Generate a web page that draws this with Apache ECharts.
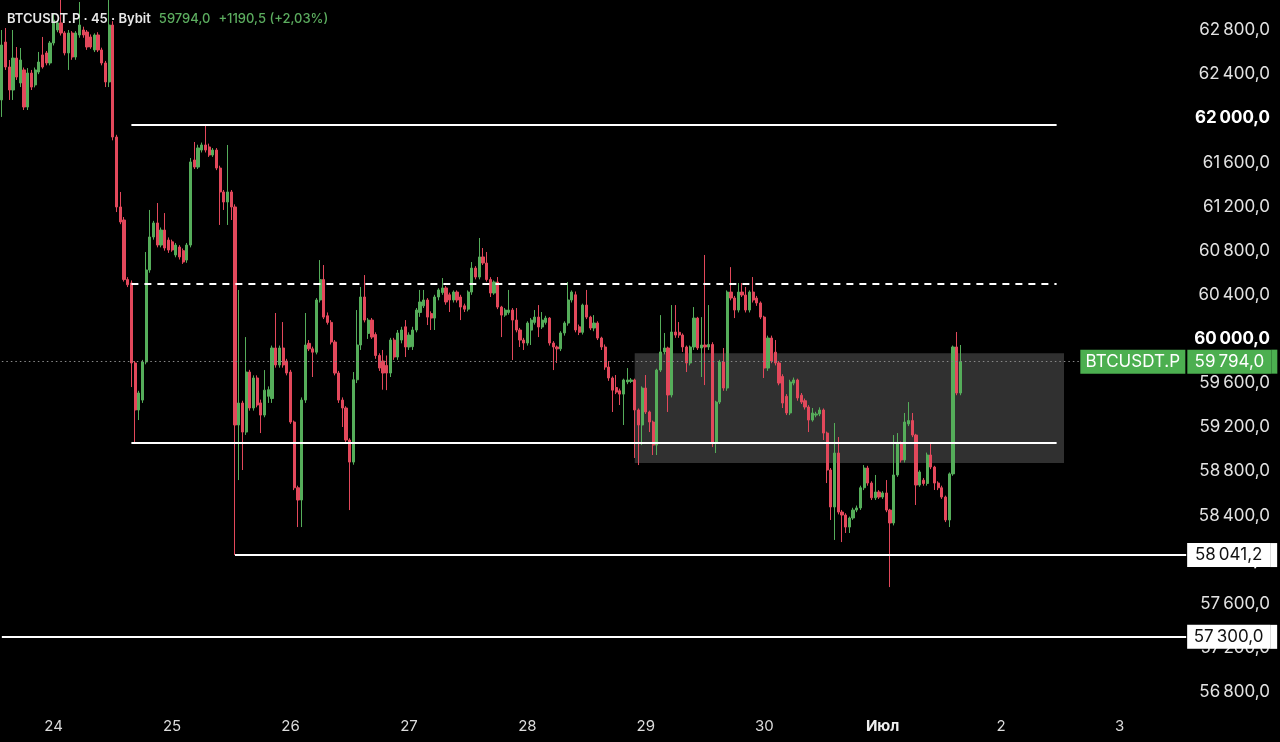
<!DOCTYPE html>
<html>
<head>
<meta charset="utf-8">
<script src="https://cdn.jsdelivr.net/npm/echarts@6.0.0/dist/echarts.min.js"></script>
<style>
  html, body { margin: 0; padding: 0; background: #000; }
  #chart { width: 1280px; height: 742px; }
</style>
</head>
<body>
<div id="chart"></div>
<script>
// ---- DATA: 45-minute candles [open, close, low, high] ----
const day23 = [
  [62166,62664,62012,62800],[62691,62465,62438,62818],[62465,62256,62166,62528],[62256,62546,62166,62800],
  [62546,62374,62347,62646],[62320,62528,62283,62637],[62438,62102,62075,62460],[62102,62410,62075,62455],
  [62410,62283,62256,62438],[62302,62438,62280,62460],[62419,62510,62400,62601],[62574,62465,62450,62737],
  [62592,62501,62480,62610],[62501,62682,62480,62700]
];
const day24 = [
  [62682,62891,62660,62954],[62800,62864,62780,62890],[62864,62773,62750,63080],[62773,62592,62570,62790],
  [62592,62773,62438,62800],[62773,62555,62530,62790],[62555,62773,62530,62790],[62755,62845,62730,63054],
  [62800,62755,62730,62830],[62782,62646,62620,62800],[62737,62646,62630,62760],[62619,62755,62600,62770],
  [62755,62619,62600,62780],[62619,62501,62480,62640],[62501,62329,62283,62520],[62329,62845,62283,63080],
  [62845,61830,61800,62880],[61830,61196,61150,61850],[61196,61060,61040,61332],[61078,60538,60520,61105],
  [60538,60491,60470,60560],[60507,59782,59564,60530],[59782,59356,59057,59800],[59356,59510,59265,59530],
  [59446,59791,59420,59810],[59791,60625,59770,60788],[60625,60924,60600,61169],[60924,61051,60900,61070],
  [61051,60851,60830,61232],[60851,60987,60830,61010],[60987,60824,60800,61141],[60896,60806,60780,60920]
];
const day25 = [
  [60880,60806,60790,60900],[60761,60851,60740,60870],[60833,60743,60720,60850],[60800,60697,60680,60820],
  [60715,60851,60690,60870],[60851,61604,60830,61640],[61622,61558,61540,61785],[61558,61731,61540,61760],
  [61712,61758,61690,61780],[61758,61712,61690,61939],[61740,61667,61650,61770],[61667,61712,61650,61730],
  [61712,61549,61530,61730],[61549,61332,61033,61570],[61332,61241,61169,61350],[61241,61332,61033,61758],
  [61332,61196,61078,61350],[61196,59220,58041.2,61220],[59220,59419,58721,60444],[59419,59156,58812,59440],
  [59156,59700,59130,60017],[59700,59374,59350,59720],[59374,59646,59350,59670],[59646,59401,59380,59670],
  [59420,59310,59147,59450],[59310,59536,59290,59718],[59480,59540,59420,59570],[59460,59918,59420,59940],
  [59918,59764,59740,60235],[59764,59918,59740,59940],[59918,59764,59740,60153],[59800,59691,59670,59820]
];
const day26 = [
  [59700,59247,59230,59720],[59247,58651,58630,59260],[58651,58540,58295,58670],[58540,59446,58295,59470],
  [59446,59945,59420,60235],[59960,59910,59890,59990],[59910,59880,59655,59930],[59880,60353,59860,60370],
  [60353,60538,60330,60715],[60538,60198,60180,60670],[60210,60150,60130,60240],[60150,59972,59950,60170],
  [59972,59691,59670,59990],[59691,59446,59420,59710],[59446,59374,59202,59470],[59374,59084,59060,59390],
  [59084,58884,58449,59100],[58884,59630,58860,59700],[59630,59945,59600,60262],[59945,60380,59900,60471],
  [60380,60171,60150,60579],[60050,60171,60000,60190],[60171,60017,60000,60190],[60040,59850,59820,60060],
  [59850,59736,59710,59870],[59800,59691,59540,59900],[59760,59691,59536,59850],[59691,59990,59655,60010],
  [59990,59836,59810,60010],[59836,60054,59810,60081],[59990,60081,59960,60110],[60110,59927,59836,60171]
];
const day27 = [
  [59927,60035,59900,60060],[59930,60081,59900,60110],[60081,60262,60060,60280],[60240,60335,60200,60444],
  [60300,60353,60280,60444],[60353,60198,60126,60370],[60230,60189,60081,60250],[60189,60380,60081,60400],
  [60380,60444,60350,60460],[60420,60462,60400,60552],[60462,60335,60310,60480],[60400,60353,60244,60420],
  [60353,60425,60330,60440],[60425,60353,60330,60440],[60380,60289,60171,60400],[60300,60270,60244,60320],
  [60270,60425,60250,60440],[60425,60642,60400,60697],[60642,60561,60540,60660],[60561,60743,60540,60915],
  [60743,60688,60670,60824],[60688,60538,60520,60788],[60538,60416,60380,60560],[60416,60516,60400,60530],
  [60516,60289,60270,60561],[60289,60216,60017,60300],[60216,60262,60200,60280],[60240,60262,60220,60444],
  [60262,60171,59809,60280],[60171,60081,60060,60280],[60081,59990,59927,60100],[59990,59963,59900,60010]
];
const day28 = [
  [59963,60144,59940,60160],[60080,60171,59945,60190],[60150,60198,60130,60262],[60198,60108,60017,60307],
  [60108,60171,60090,60244],[60150,60189,60130,60210],[60189,59963,59940,60198],[59963,59927,59718,59980],
  [59927,59910,59782,59940],[59910,60054,59890,60070],[60054,60144,60030,60160],[60144,60353,60120,60516],
  [60353,60425,60330,60440],[60400,60081,60060,60430],[60110,60060,60035,60130],[60060,60307,60040,60320],
  [60307,60198,60180,60444],[60198,60099,60080,60210],[60099,60144,60070,60216],[60144,60008,59990,60160],
  [60008,59927,59900,60020],[59927,59745,59720,59950],[59745,59646,59620,59800],[59646,59536,59338,59660],
  [59560,59518,59500,59673],[59530,59500,59401,59550],[59500,59628,59220,59640],[59610,59628,59590,59736],
  [59615,59628,59600,59645],[59628,59356,58921,59640],[59356,59220,58857,59370],[59220,59555,59038,59570]
];
const day29 = [
  [59555,59338,59320,59673],[59338,59247,59156,59350],[59247,59038,58948,59260],[59038,59718,58948,59730],
  [59718,59882,59700,60216],[59882,59918,59860,60054],[59918,59492,59338,59930],[59492,60063,59470,60307],
  [60063,60035,60010,60307],[60060,60035,60010,60153],[60035,59927,59882,60050],[59927,59782,59700,59940],
  [59782,59927,59760,59940],[59927,60189,59900,60289],[60189,59918,59900,60200],[59918,59945,59655,60198],
  [59945,59927,59582,60761],[59927,59950,59900,60307],[59950,59057,59020,59970],[59057,59428,58966,59440],
  [59428,59791,59410,59810],[59791,59555,59530,59918],[59555,60425,59530,60440],[60425,60371,60350,60651],
  [60371,60262,60189,60390],[60262,60425,60240,60507],[60425,60398,60380,60507],[60398,60262,60240,60471],
  [60262,60425,60240,60440],[60425,60353,60330,60561],[60370,60326,60300,60390],[60326,60198,60180,60340]
];
const day30 = [
  [60198,59736,59646,60210],[59736,60008,59710,60030],[60008,59800,59780,60030],[59880,59782,59760,59990],
  [59782,59600,59580,59800],[59660,59419,59374,59680],[59480,59329,59310,59500],[59329,59610,59310,59630],
  [59600,59628,59580,59650],[59628,59465,59440,59640],[59490,59428,59410,59510],[59440,59383,59360,59460],
  [59383,59265,59156,59400],[59265,59329,59250,59374],[59310,59320,59290,59340],[59320,59356,59300,59380],
  [59356,59147,59084,59370],[59147,58812,58694,59160],[58812,58477,58359,58830],[58477,58966,58178,59238],
  [58966,58431,58410,59111],[58431,58404,58159,58450],[58404,58295,58241,58420],[58295,58377,58241,58390],
  [58377,58449,58360,58470],[58449,58468,58430,58490],[58468,58651,58450,58670],[58651,58830,58630,58857],
  [58830,58694,58670,58850],[58694,58560,58540,58710],[58560,58613,58540,58767],[58613,58567,58550,58630]
];
const jul01 = [
  [58567,58604,58550,58620],[58604,58449,58430,58721],[58449,58332,57751,58460],[58332,58767,58310,59129],
  [58767,59057,58750,59147],[59057,58903,58880,59070],[58903,59247,58880,59329],[59230,59260,59210,59428],
  [59260,59129,59110,59329],[59129,58676,58495,59140],[58676,58794,58660,58810],[58720,58690,58670,58740],
  [58690,58948,58670,58970],[58948,58839,58820,59066],[58839,58694,58631,58850],[58694,58651,58630,58710],
  [58651,58567,58550,58670],[58567,58359,58340,58580],[58359,58777,58295,58790],[58777,59927,58760,59940],
  [59927,59510,59490,60063],[59510,59794,59490,59945]
];

// price axis tick labels
const priceTicks = [56800, 57200, 57600, 58000, 58400, 58800, 59200, 59600, 60000, 60400, 60800, 61200, 61600, 62000, 62400, 62800];
const boldTicks = [58000, 60000, 62000];

// drawn levels (price, from candle index, to candle index)
const rangeLevels = [
  { price: 61940, from: 35, to: 285, kind: 'solid' },
  { price: 60500, from: 35, to: 285, kind: 'dashed' },
  { price: 59060, from: 35, to: 285, kind: 'solid' }
];
const taggedLevels = [
  { price: 58041.2, from: 63, to: 320 },
  { price: 57300.0, from: 0, to: 320 }
];
const zone = { top: 59870, bottom: 58875, from: 171, to: 287 };

const symbolName = 'BTCUSDT.P';
const header = 'BTCUSDT.P · 45 · Bybit';
const lastPrice = 59794.0;
const change = 1190.5;
const changePct = 2.03;
const lastLineEnd = 291;

// time axis: 45-minute bars starting 23 Jun 13:30
const totalSlots = 321;
const startMs = Date.UTC(2024, 5, 23, 13, 30);
const stepMs = 45 * 60 * 1000;
const monthsRu = ['Янв','Фев','Мар','Апр','Май','Июн','Июл','Авг','Сен','Окт','Ноя','Дек'];
const categories = [];
for (let i = 0; i < totalSlots; i++) {
  const d = new Date(startMs + i * stepMs);
  const p = n => String(n).padStart(2, '0');
  categories.push(d.getUTCFullYear() + '-' + p(d.getUTCMonth() + 1) + '-' + p(d.getUTCDate()) + ' ' + p(d.getUTCHours()) + ':' + p(d.getUTCMinutes()));
}

const candles = [].concat(day23, day24, day25, day26, day27, day28, day29, day30, jul01);

function fmtPrice(v) {
  const s = v.toFixed(1);
  const parts = s.split('.');
  const intPart = parts[0].replace(/\B(?=(\d{3})+(?!\d))/g, '\u2009');
  return intPart + ',' + parts[1];
}
function fmtPlain(v) { return v.toFixed(1).replace('.', ','); }

const UP = '#55ad5a';
const DOWN = '#e2485b';
const FONT = 'Inter, "Noto Sans", sans-serif';

const chart = echarts.init(document.getElementById('chart'));

const levelLines = rangeLevels.map(l => [
  { coord: [l.from, l.price],
    lineStyle: { color: '#ffffff', width: 2, type: l.kind === 'dashed' ? [7, 6] : 'solid', opacity: 1 },
    label: { show: false } },
  { coord: [l.to, l.price] }
]);
const tagLines = taggedLevels.map(l => [
  { coord: [l.from, l.price],
    lineStyle: { color: '#ffffff', width: 2, type: 'solid', opacity: 1 },
    label: {
      show: true, position: 'end', distance: 1,
      formatter: '{w|' + fmtPrice(l.price) + '}{p|}',
      rich: {
        w: { backgroundColor: '#ffffff', color: '#111', fontSize: 17, fontFamily: FONT, width: 83, height: 24, lineHeight: 24, align: 'right' },
        p: { backgroundColor: '#ffffff', width: 7, height: 24, lineHeight: 24 }
      }
    } },
  { coord: [l.to, l.price] }
]);

const option = {
  backgroundColor: '#000000',
  animation: false,
  textStyle: { fontFamily: FONT },
  title: {
    left: 2, top: 5,
    text: '{n|' + header + '}{s|}{g|' + fmtPlain(lastPrice) + '}{s|}{g|+' + fmtPlain(change) + ' (+' + changePct.toFixed(2).replace('.', ',') + '%)}',
    textStyle: {
      rich: {
        n: { color: '#e8e8e8', fontSize: 13, fontWeight: 600, fontFamily: FONT },
        s: { width: 8 },
        g: { color: '#5cad5f', fontSize: 13, fontWeight: 500, fontFamily: FONT }
      }
    }
  },
  grid: { left: 0, right: 92, top: 0, bottom: 34, containLabel: false },
  xAxis: {
    type: 'category',
    data: categories,
    boundaryGap: true,
    axisLine: { show: false },
    axisTick: { show: false },
    splitLine: { show: false },
    axisLabel: {
      margin: 11,
      color: '#dcdcdc',
      fontSize: 15,
      fontFamily: FONT,
      interval: function (index, value) { return value.slice(11) === '00:00'; },
      formatter: function (value) {
        const day = parseInt(value.slice(8, 10), 10);
        const mon = parseInt(value.slice(5, 7), 10) - 1;
        if (day === 1) return '{b|' + monthsRu[mon] + '}';
        return String(day);
      },
      rich: { b: { fontWeight: 'bold', fontSize: 15, color: '#eeeeee', fontFamily: FONT } }
    }
  },
  yAxis: {
    type: 'value',
    position: 'right',
    min: 56655,
    max: 63072,
    axisLine: { show: false },
    axisTick: { show: false },
    splitLine: { show: false },
    axisLabel: {
      customValues: priceTicks,
      align: 'right',
      margin: 82,
      color: '#e2e2e2',
      fontSize: 17,
      fontFamily: FONT,
      formatter: function (v) {
        const t = fmtPrice(v);
        return boldTicks.indexOf(v) >= 0 ? '{b|' + t + '}' : t;
      },
      rich: { b: { fontWeight: 'bold', fontSize: 17, color: '#ffffff', fontFamily: FONT } }
    }
  },
  series: [
    {
      name: 'zone',
      type: 'line',
      data: [],
      z: 1,
      silent: true,
      clip: false,
      markArea: {
        silent: true,
        itemStyle: { color: 'rgba(255,255,255,0.19)' },
        data: [[{ coord: [zone.from, zone.top] }, { coord: [zone.to, zone.bottom] }]]
      },
      markLine: {
        silent: true,
        symbol: ['none', 'none'],
        data: [[
          { coord: [0, lastPrice],
            lineStyle: { color: '#8a8a8a', width: 1, type: [1.5, 3], opacity: 1 },
            label: {
              show: true, position: 'end', distance: 1.5,
              formatter: '{a|' + symbolName + '}{gap|}{b|' + fmtPrice(lastPrice) + '}{c|}',
              rich: {
                a: { backgroundColor: '#4caf50', color: '#ffffff', fontSize: 17, fontFamily: FONT, width: 105, height: 24, lineHeight: 24, align: 'center' },
                gap: { width: 2, height: 24 },
                b: { backgroundColor: '#4caf50', color: '#ffffff', fontSize: 17, fontFamily: FONT, width: 84, height: 24, lineHeight: 24, align: 'right' },
                c: { backgroundColor: '#4caf50', width: 6, height: 24, lineHeight: 24 }
              }
            } },
          { coord: [lastLineEnd, lastPrice] }
        ]]
      }
    },
    {
      name: symbolName,
      type: 'candlestick',
      data: candles,
      z: 2,
      barWidth: '72%',
      clip: true,
      itemStyle: {
        color: UP, color0: DOWN,
        borderColor: UP, borderColor0: DOWN,
        borderWidth: 1
      }
    },
    {
      name: 'levels',
      type: 'line',
      data: [],
      z: 3,
      silent: true,
      clip: false,
      markLine: {
        silent: true,
        symbol: ['none', 'none'],
        data: levelLines.concat(tagLines)
      }
    }
  ]
};

chart.setOption(option);
</script>
</body>
</html>
